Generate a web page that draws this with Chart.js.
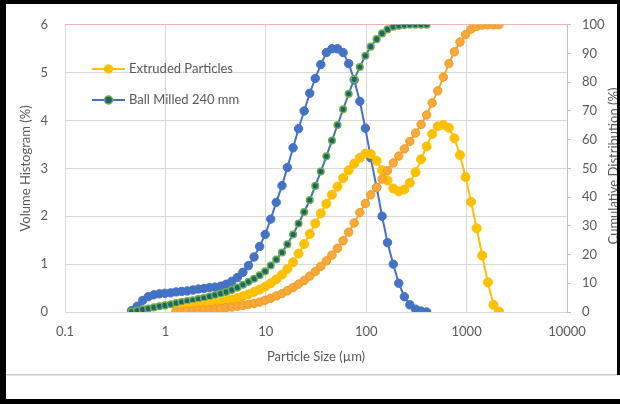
<!DOCTYPE html>
<html>
<head>
<meta charset="utf-8">
<script src="https://cdn.jsdelivr.net/npm/chart.js@4.4.1/dist/chart.umd.min.js"></script>
<style>
  html, body { margin: 0; padding: 0; background: #fff; }
  canvas { display: block; }
</style>
</head>
<body>
<canvas id="psdChart" width="620" height="404"></canvas>
<script>
// size classes (µm)
const sizes = [0.46, 0.523, 0.594, 0.675, 0.767, 0.872, 0.991, 1.13, 1.28, 1.45,
  1.65, 1.88, 2.13, 2.42, 2.75, 3.12, 3.55, 4.03, 4.58, 5.21,
  5.92, 6.72, 7.64, 8.68, 9.86, 11.2, 12.7, 14.5, 16.4, 18.7,
  21.2, 24.1, 27.4, 31.1, 35.3, 40.1, 45.6, 51.8, 58.9, 66.9,
  76, 86.4, 98.1, 111, 127, 144, 163, 186, 211, 240,
  272, 310, 352, 400, 454, 516, 586, 666, 756, 859,
  976, 1110, 1260, 1430, 1630, 1850, 2100];

const xTicks = [0.1, 1, 10, 100, 1000, 10000];

// Ball Milled 240 mm - volume histogram (%)
const ballHist = [0.03, 0.12, 0.24, 0.32, 0.36, 0.38, 0.39, 0.40, 0.42, 0.43,
  0.44, 0.46, 0.48, 0.49, 0.51, 0.52, 0.54, 0.58, 0.64, 0.72,
  0.83, 0.97, 1.15, 1.37, 1.62, 1.94, 2.29, 2.64, 3.02, 3.43,
  3.83, 4.20, 4.57, 4.88, 5.17, 5.42, 5.50, 5.50, 5.42, 5.19,
  4.85, 4.40, 3.84, 3.22, 2.60, 2.00, 1.45, 1.00, 0.60, 0.32,
  0.15, 0.06, 0.02, 0.00];

// Ball Milled 240 mm - cumulative (%)
const ballCum = [0.2, 0.5, 0.9, 1.2, 1.6, 2.0, 2.3, 2.7, 3.1, 3.5,
  3.8, 4.1, 4.5, 4.9, 5.4, 5.9, 6.4, 7.0, 7.7, 8.5,
  9.5, 10.5, 11.6, 12.8, 14.2, 16.2, 18.3, 20.7, 23.6, 27.0,
  30.8, 34.8, 39.0, 43.9, 48.9, 54.2, 59.7, 65.1, 70.6, 76.0,
  81.0, 85.3, 89.2, 92.4, 95.0, 97.0, 98.4, 99.3, 99.7, 99.9,
  100, 100, 100, 100];

// Extruded Particles - volume histogram (%), starts at 1.28 µm
const extHist = [null, null, null, null, null, null, null, null, 0.02, 0.05,
  0.08, 0.10, 0.12, 0.14, 0.16, 0.18, 0.20, 0.23, 0.26, 0.29,
  0.33, 0.37, 0.42, 0.47, 0.53, 0.60, 0.68, 0.78, 0.90, 1.04,
  1.22, 1.42, 1.63, 1.85, 2.06, 2.26, 2.45, 2.62, 2.80, 2.96,
  3.10, 3.22, 3.31, 3.30, 3.16, 2.96, 2.75, 2.58, 2.52, 2.56,
  2.70, 2.92, 3.19, 3.46, 3.72, 3.88, 3.91, 3.85, 3.63, 3.28,
  2.82, 2.30, 1.75, 1.18, 0.62, 0.15, 0.01];

// Extruded Particles - cumulative (%)
const extCum = [null, null, null, null, null, null, null, null, 0.05, 0.15,
  0.3, 0.4, 0.55, 0.7, 0.85, 1.05, 1.25, 1.5, 1.75, 2.0,
  2.3, 2.65, 3.0, 3.45, 4.1, 4.8, 5.6, 6.4, 7.4, 8.5,
  9.7, 11.0, 12.5, 14.1, 15.9, 17.8, 19.8, 22.2, 24.8, 27.8,
  31.0, 34.6, 37.8, 40.8, 43.4, 46.3, 49.2, 51.9, 54.3, 56.8,
  59.4, 62.3, 65.3, 68.6, 72.8, 77.0, 81.8, 86.5, 90.6, 94.0,
  96.6, 98.5, 99.5, 99.9, 100, 100, 100];

const textColor = '#595959';
const font = { family: 'Lato', size: 13 };

function toPoints(values) {
    return sizes.map((s, i) => ({ x: s, y: values[i] }))
        .filter(p => p.y !== null && p.y !== undefined);
}

// white background, frame, right axis title, legend
const decor = {
    id: 'decor',
    beforeDraw(chart) {
        const c = chart.ctx;
        c.save();
        c.fillStyle = '#fff';
        c.fillRect(0, 0, chart.width, chart.height);
        c.restore();
    },
    afterDraw(chart) {
        const c = chart.ctx;
        c.save();
        // legend
        const items = [
            { y: 69, line: '#FFC000', fill: '#FFC000', stroke: '#FFC000', label: 'Extruded Particles' },
            { y: 100, line: '#4472C4', fill: '#1B6571', stroke: '#70AD47', label: 'Ball Milled 240 mm' }
        ];
        items.forEach(it => {
            c.strokeStyle = it.line;
            c.lineWidth = 2;
            c.beginPath();
            c.moveTo(92, it.y);
            c.lineTo(125, it.y);
            c.stroke();
            c.beginPath();
            c.arc(108.5, it.y, 4, 0, Math.PI * 2);
            c.fillStyle = it.fill;
            c.fill();
            c.lineWidth = 1.5;
            c.strokeStyle = it.stroke;
            c.stroke();
            c.fillStyle = textColor;
            c.font = '13px Lato';
            c.textAlign = 'left';
            c.textBaseline = 'middle';
            c.fillText(it.label, 129, it.y);
        });

        // right axis title
        c.translate(614, 166);
        c.rotate(-Math.PI / 2);
        c.fillStyle = textColor;
        c.font = '13px Lato';
        c.textAlign = 'center';
        c.textBaseline = 'middle';
        c.fillText('Cumulative Distribution (%)', 0, 0);
        c.setTransform(1, 0, 0, 1, 0, 0);

        // frame
        c.fillStyle = '#c8c8c8';
        c.fillRect(6, 374, 614, 1.5);
        c.fillStyle = '#000';
        c.fillRect(0, 0, 620, 4);
        c.fillRect(0, 0, 6, 404);
        c.fillRect(0, 399, 620, 5);
        c.fillRect(617, 0, 3, 375);
        c.restore();
    }
};

new Chart(document.getElementById('psdChart'), {
    type: 'line',
    data: {
        datasets: [
            {
                label: 'Extruded Particles (cumulative)',
                data: toPoints(extCum),
                yAxisID: 'y2',
                borderColor: '#F4A62A',
                borderWidth: 2,
                pointRadius: 4.2,
                pointBackgroundColor: '#F9A935',
                pointBorderColor: '#F09A2A',
                pointBorderWidth: 1,
                order: 1
            },
            {
                label: 'Extruded Particles',
                data: toPoints(extHist),
                yAxisID: 'y',
                borderColor: '#FFC000',
                borderWidth: 2,
                pointRadius: 4.5,
                pointBackgroundColor: '#FFC000',
                pointBorderColor: '#FFC000',
                pointBorderWidth: 1,
                order: 2
            },
            {
                label: 'Ball Milled 240 mm (cumulative)',
                data: toPoints(ballCum),
                yAxisID: 'y2',
                borderColor: '#3A78B5',
                borderWidth: 2,
                pointRadius: 3.3,
                pointBackgroundColor: '#1B6571',
                pointBorderColor: '#70AD47',
                pointBorderWidth: 1.5,
                order: 3
            },
            {
                label: 'Ball Milled 240 mm',
                data: toPoints(ballHist),
                yAxisID: 'y',
                borderColor: '#4472C4',
                borderWidth: 2,
                pointRadius: 4.2,
                pointBackgroundColor: '#4472C4',
                pointBorderColor: '#4472C4',
                pointBorderWidth: 1,
                order: 4
            }
        ]
    },
    options: {
        responsive: false,
        animation: false,
        devicePixelRatio: 1,
        layout: { padding: { top: 22, left: 0, right: 0, bottom: 0 } },
        plugins: {
            legend: { display: false },
            tooltip: { enabled: false }
        },
        scales: {
            x: {
                type: 'logarithmic',
                position: 'bottom',
                min: 0.1,
                max: 10000,
                afterBuildTicks: s => { s.ticks = xTicks.map(v => ({ value: v })); },
                afterFit: s => { s.height = 92; },
                ticks: {
                    callback: v => String(v),
                    color: textColor,
                    font: font,
                    padding: 12,
                    maxRotation: 0,
                    autoSkip: false
                },
                grid: { color: '#d9d9d9', drawTicks: false },
                border: { display: false },
                title: {
                    display: true,
                    text: 'Particle Size (µm)',
                    color: textColor,
                    font: font,
                    padding: { top: 0, bottom: 39 }
                }
            },
            y: {
                position: 'left',
                min: 0,
                max: 6,
                afterFit: s => { s.width = 65; },
                ticks: { stepSize: 1, color: textColor, font: font, padding: 17 },
                grid: {
                    color: ctx => ctx.tick && ctx.tick.value === 6 ? '#efb3b3' : '#d9d9d9',
                    drawTicks: false
                },
                border: { display: false },
                title: {
                    display: true,
                    text: 'Volume Histogram (%)',
                    color: textColor,
                    font: font,
                    padding: { top: 18, bottom: 0 }
                }
            },
            y2: {
                position: 'right',
                min: 0,
                max: 100,
                afterFit: s => { s.width = 53; },
                ticks: { stepSize: 10, color: textColor, font: font, padding: 11 },
                grid: { drawOnChartArea: false, drawTicks: true, tickLength: 4, color: '#bfbfbf' },
                border: { display: true, color: '#bfbfbf' }
            }
        }
    },
    plugins: [decor]
});
</script>
</body>
</html>
